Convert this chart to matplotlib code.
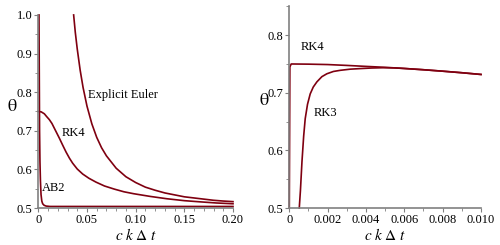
import numpy as np
import matplotlib.pyplot as plt
from matplotlib.ticker import MultipleLocator

# valores
ee_x = [0.0363, 0.038, 0.040, 0.043, 0.046, 0.050, 0.055, 0.060, 0.065, 0.070,
        0.080, 0.090, 0.100, 0.110, 0.120, 0.130, 0.140, 0.150, 0.160, 0.170,
        0.180, 0.190, 0.200]
ee_y = [1.0, 0.955, 0.912, 0.857, 0.812, 0.764, 0.718, 0.683, 0.656, 0.635,
        0.603, 0.581, 0.566, 0.554, 0.546, 0.539, 0.534, 0.529, 0.526, 0.523,
        0.520, 0.518, 0.5165]

rk4_x = [0.0, 0.003, 0.0062, 0.0085, 0.0113, 0.0140, 0.0164, 0.0190, 0.0216,
         0.0250, 0.0285, 0.0320, 0.0353, 0.0400, 0.0456, 0.0520, 0.0593, 0.068,
         0.078, 0.088, 0.098, 0.115, 0.132, 0.150, 0.166, 0.183, 0.200]
rk4_y = [0.750, 0.749, 0.744, 0.737, 0.729, 0.719, 0.707, 0.694, 0.681,
         0.663, 0.645, 0.629, 0.616, 0.601, 0.588, 0.577, 0.567, 0.557,
         0.549, 0.542, 0.537, 0.530, 0.524, 0.519, 0.516, 0.513, 0.511]

ab2_x = [0.0007, 0.0009, 0.0011, 0.0013, 0.0017, 0.0022, 0.0028, 0.0036, 0.0045,
         0.006, 0.008, 0.012, 0.02, 0.05, 0.1, 0.2]
ab2_y = [1.0, 0.9, 0.8, 0.7, 0.62, 0.57, 0.535, 0.518, 0.511,
         0.507, 0.505, 0.504, 0.504, 0.504, 0.504, 0.504]

# panel derecho
rk4b_x = [0.0, 0.00003, 0.0001, 0.001, 0.002, 0.003, 0.004, 0.005, 0.006, 0.007,
          0.008, 0.009, 0.010]
rk4b_y = [0.5, 0.745, 0.750, 0.7497, 0.749, 0.7475, 0.7458, 0.7442, 0.7422, 0.740,
          0.7375, 0.7348, 0.7318]

rk3_x = [0.00052, 0.00058, 0.00066, 0.00075, 0.00083, 0.00095, 0.00109, 0.00125,
         0.00144, 0.00170, 0.00196, 0.00230, 0.00266, 0.00318, 0.0037, 0.0043,
         0.0049, 0.0055, 0.006, 0.007, 0.008, 0.009, 0.010]
rk3_y = [0.50, 0.53, 0.58, 0.625, 0.655, 0.680, 0.698, 0.710,
         0.719, 0.728, 0.733, 0.737, 0.739, 0.741, 0.742, 0.743,
         0.7435, 0.7432, 0.7422, 0.740, 0.7375, 0.7348, 0.7318]

color = '#7f0010'
gris = '#808080'

plt.rcParams['font.family'] = 'Liberation Serif'
plt.rcParams['mathtext.fontset'] = 'stix'

fig = plt.figure(figsize=(5, 2.45), dpi=100)
ax1 = fig.add_axes([0.0766, 0.151, 0.3894, 0.788])
ax2 = fig.add_axes([0.5786, 0.151, 0.3834, 0.823])

def estilo(ax):
    for s in ['top', 'right']:
        ax.spines[s].set_visible(False)
    for s in ['left', 'bottom']:
        ax.spines[s].set_color(gris)
        ax.spines[s].set_linewidth(1.2)
    ax.tick_params(which='both', direction='out', colors='black', labelsize=9,
                   pad=1)
    ax.tick_params(which='major', length=3, width=0.8, color=gris)
    ax.tick_params(which='minor', length=2, width=0.6, color=gris)
    ax.set_xlabel(r'$c\ k\ \Delta\ t$', fontsize=11, labelpad=1)
    ax.set_ylabel(r'$\mathrm{\theta}$', fontsize=13, rotation=0, labelpad=6)

ax1.plot(ab2_x, ab2_y, color=color, lw=1.2, clip_on=False)
ax1.plot(rk4_x, rk4_y, color=color, lw=1.2, clip_on=False)
ax1.plot(ee_x, ee_y, color=color, lw=1.2, clip_on=False)
ax1.set_xlim(0, 0.2)
ax1.set_ylim(0.5, 1.0)
ax1.xaxis.set_minor_locator(MultipleLocator(0.01))
ax1.yaxis.set_minor_locator(MultipleLocator(0.05))
ax1.set_xticks([0, 0.05, 0.1, 0.15, 0.2], ['0', '0.05', '0.10', '0.15', '0.20'])
ax1.set_yticks([0.5, 0.6, 0.7, 0.8, 0.9, 1.0], ['0.5', '0.6', '0.7', '0.8', '0.9', '1.0'])
estilo(ax1)
ax1.yaxis.set_label_coords(-0.135, 0.48)
ax1.text(0.0512, 0.793, 'Explicit Euler', fontsize=9, va='center')
ax1.text(0.0245, 0.695, 'RK4', fontsize=9, va='center')
ax1.text(0.0035, 0.551, 'AB2', fontsize=9, va='center')

ax2.plot(rk4b_x, rk4b_y, color=color, lw=1.2, clip_on=False)
ax2.plot(rk3_x, rk3_y, color=color, lw=1.2, clip_on=False)
ax2.set_xlim(0, 0.010)
ax2.set_ylim(0.5, 0.85)
ax2.xaxis.set_minor_locator(MultipleLocator(0.001))
ax2.yaxis.set_minor_locator(MultipleLocator(0.05))
ax2.set_xticks([0, 0.002, 0.004, 0.006, 0.008, 0.010],
               ['0', '0.002', '0.004', '0.006', '0.008', '0.010'])
ax2.set_yticks([0.5, 0.6, 0.7, 0.8], ['0.5', '0.6', '0.7', '0.8'])
estilo(ax2)
ax2.yaxis.set_label_coords(-0.13, 0.49)
ax2.text(0.00057, 0.78, 'RK4', fontsize=9, va='center')
ax2.text(0.00125, 0.665, 'RK3', fontsize=9, va='center')

fig.savefig('out.png', dpi=100)
